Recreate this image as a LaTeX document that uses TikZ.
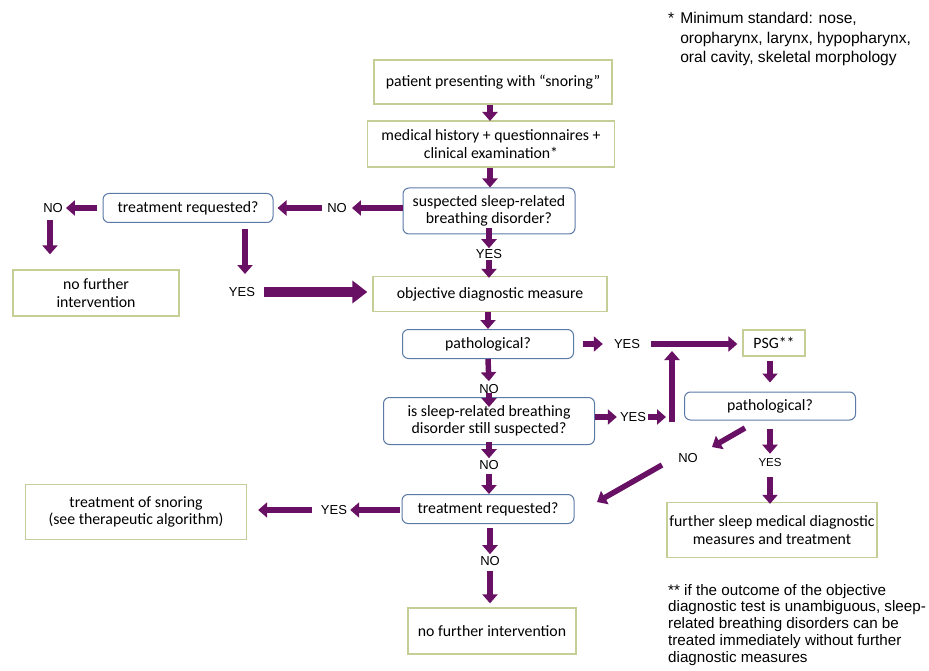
\documentclass[tikz,border=0pt]{standalone}
\usepackage{fontspec}
\newfontfamily\calfont{Carlito}
\newfontfamily\arfont{Liberation Sans}
\usetikzlibrary{arrows.meta}
\definecolor{arrcol}{RGB}{104,16,100}
\definecolor{gbord}{RGB}{196,206,150}
\definecolor{bbord}{RGB}{92,122,166}
\tikzset{
  greenbox/.style={draw=gbord, line width=1.3pt, fill=white, inner sep=0pt, align=center,
    font=\calfont\fontsize{15.8}{17.5}\selectfont},
  bluebox/.style={draw=bbord, line width=1pt, rounded corners=6pt, fill=white, inner sep=0pt, align=center,
    font=\calfont\fontsize{15.8}{17.5}\selectfont},
  lab/.style={inner sep=1pt, font=\arfont\fontsize{13}{14}\selectfont},
  smalllab/.style={inner sep=1pt, font=\arfont\fontsize{11.5}{13}\selectfont},
  arr/.style={draw=arrcol, line width=5.5pt, -{Triangle[length=9pt,width=15pt]}},
  bigarr/.style={draw=arrcol, line width=10pt, -{Triangle[length=15pt,width=22pt]}},
  note/.style={inner sep=0pt, align=left, anchor=north west, font=\arfont\fontsize{15.2}{16.7}\selectfont}
}
\begin{document}
\begin{tikzpicture}[x=1pt,y=-1pt]
\useasboundingbox (0,0) rectangle (929,671);
% boxes
\node[greenbox, minimum width=238pt, minimum height=44pt] (b1) at (493,82) {patient presenting with “snoring”};
\node[greenbox, minimum width=247pt, minimum height=46pt] (b2) at (491,144) {medical history + questionnaires +\\ clinical examination*};
\node[bluebox, minimum width=172pt, minimum height=46pt] (b3) at (489,211) {suspected sleep-related\\ breathing disorder?};
\node[bluebox, minimum width=170pt, minimum height=29pt] (tl) at (188,208) {treatment requested?};
\node[greenbox, minimum width=166pt, minimum height=46pt] (nfl) at (96,293) {no further\\ intervention};
\node[greenbox, minimum width=234pt, minimum height=35pt] (obj) at (490,294) {objective diagnostic measure};
\node[bluebox, minimum width=171pt, minimum height=29pt] (p1) at (488,344) {pathological?};
\node[greenbox, minimum width=62pt, minimum height=26pt] (psg) at (774,343) {PSG**};
\node[bluebox, minimum width=171pt, minimum height=28pt] (p2) at (770,406) {pathological?};
\node[bluebox, minimum width=211pt, minimum height=47pt] (b4) at (489,421) {is sleep-related breathing\\ disorder still suspected?};
\node[bluebox, minimum width=172pt, minimum height=29pt] (t5) at (488,509) {treatment requested?};
\node[greenbox, minimum width=221pt, minimum height=55pt] (ts) at (136,512) {treatment of snoring\\ (see therapeutic algorithm)};
\node[greenbox, minimum width=168pt, minimum height=46pt] (nfb) at (492,631) {no further intervention};
\node[greenbox, minimum width=210pt, minimum height=55pt] (fs) at (772,530) {further sleep medical diagnostic\\ measures and treatment};
% labels
\node[lab] (nol) at (53,208) {NO};
\node[lab] (nor) at (337,208) {NO};
\node[lab] (yl) at (242,292) {YES};
\node[lab] (ys) at (489,254) {YES};
\node[lab] (yp) at (627,344) {YES};
\node[lab] (no1) at (489,389) {NO};
\node[lab] (y4) at (633,417) {YES};
\node[lab] (no2) at (489,465) {NO};
\node[lab] (y5) at (334,510) {YES};
\node[lab] (no3) at (490,561) {NO};
\node[lab] (no4) at (688,458) {NO};
\node[smalllab] (y6) at (770,463) {YES};
% coordinates for free ends
\coordinate (mbot) at (672,422);
\coordinate (mtop) at (672,351);
\coordinate (mjoin) at (672,417);
\coordinate (d1s) at (745,428);
\coordinate (d1e) at (712,447);
\coordinate (d2s) at (662,465);
\coordinate (d2e) at (597,502);
% notes
\node[note, font=\arfont\fontsize{15.6}{19.5}\selectfont] (n1) at (668,10) {\begin{tabular}{@{}l@{\hspace{6pt}}l@{}}*&Minimum standard: nose,\\ &oropharynx, larynx, hypopharynx,\\ &oral cavity, skeletal morphology\end{tabular}};
\node[note] (n2) at (668,584) {** if the outcome of the objective\\ diagnostic test is unambiguous, sleep-\\ related breathing disorders can be\\ treated immediately without further\\ diagnostic measures};
% arrows
\draw[arr] (b1.south -| 490,0) -- (490,121);
\draw[arr] (b2.south -| 490,0) -- (b3.north -| 490,0);
\draw[arr, shorten <=-6pt] (b3.south) -- (ys.north);
\draw[arr, shorten >=-2pt] (ys.south) -- (obj.north -| ys);
\draw[arr] (obj.south -| p1) -- (p1.north);
\draw[arr, shorten <=0pt, shorten >=2pt] (p1.south) -- (no1.north);
\draw[arr, shorten >=-10pt, shorten <=-2pt] (no1.south) -- (b4.north);
\draw[arr, shorten <=-3pt, shorten >=1pt] (b4.south) -- (no2.north);
\draw[arr, shorten <=3pt] (no2.south) -- (t5.north -| no2);
\draw[arr, shorten <=4pt, shorten >=1pt] (t5.south -| no3) -- (no3.north);
\draw[arr, shorten <=4pt, shorten >=4pt] (no3.south) -- (nfb.north -| no3);
% left branch
\draw[arr, shorten >=4pt] (b3.west |- nor) -- (nor.east);
\draw[arr, shorten <=4pt, shorten >=4pt] (nor.west) -- (tl.east);
\draw[arr, shorten <=6pt, shorten >=2pt] (tl.west) -- (nol.east);
\draw[arr, shorten <=6pt, shorten >=15pt] (nol.south -| 50,0) -- (nfl.north -| 50,0);
\draw[arr, shorten <=6pt, shorten >=10pt] (tl.south -| 245,0) -- (245,284);
\draw[bigarr, shorten <=8pt, shorten >=5pt] (yl.east) -- (obj.west |- yl);
% right branch
\draw[arr, shorten <=9pt, shorten >=10pt] (p1.east) -- (yp.west);
\draw[arr, shorten <=10pt, shorten >=5pt] (yp.east) -- (psg.west |- yp);
\draw[arr] (mbot) -- (mtop);
\draw[arr, shorten >=2pt] (b4.east |- y4) -- (y4.west);
\draw[arr, shorten <=1pt, shorten >=6pt] (y4.east) -- (mjoin);
\draw[arr, shorten <=4pt, shorten >=9pt] (psg.south -| p2) -- (p2.north);
\draw[arr] (d1s) -- (d1e);
\draw[arr] (d2s) -- (d2e);
\draw[arr, shorten <=8pt, shorten >=4pt] (p2.south) -- (y6.north);
\draw[arr, shorten <=9pt, shorten >=-2pt] (y6.south) -- (fs.north -| y6);
% bottom left
\draw[arr, shorten <=2pt, shorten >=2pt] (t5.west |- y5) -- (y5.east);
\draw[arr, shorten <=8pt, shorten >=11pt] (y5.west) -- (ts.east |- y5);
\end{tikzpicture}
\end{document}
